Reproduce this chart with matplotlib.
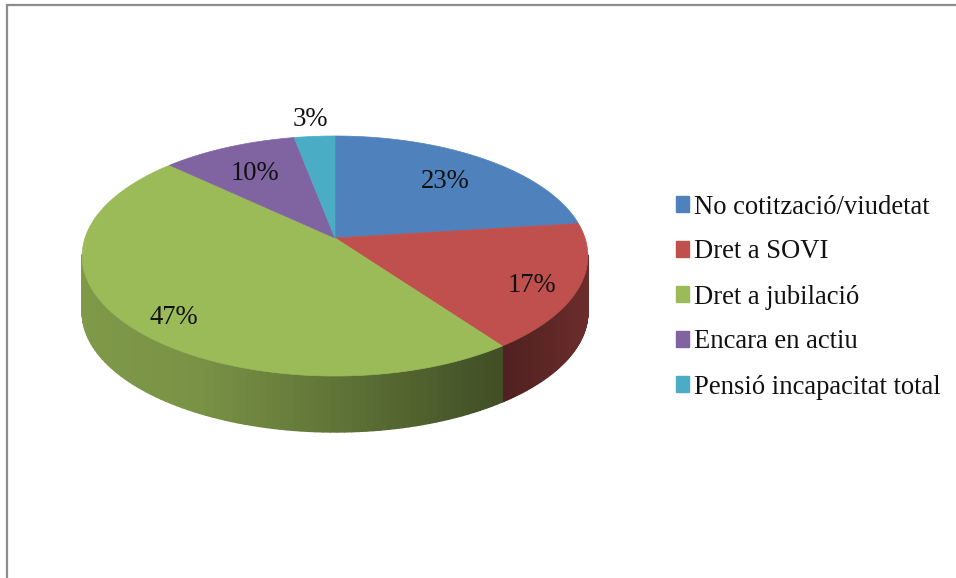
import numpy as np
import matplotlib
matplotlib.use('Agg')
import matplotlib.pyplot as plt
from matplotlib.patches import Patch, Polygon
from matplotlib.collections import PolyCollection

categories = ['No cotització/viudetat', 'Dret a SOVI', 'Dret a jubilació', 'Encara en actiu', 'Pensió incapacitat total']
values = [23, 17, 47, 10, 3]
colors = ['#4F81BD', '#C0504D', '#9BBB59', '#8064A2', '#4BACC6']

# pixel positions of the percent labels
label_pos = [(445, 182), (532, 286), (174, 317), (255, 173), (310, 119)]

plt.rcParams['font.family'] = ['Liberation Serif', 'DejaVu Serif']

# perspective of the tilted pie
CX, CY = 335, 238
RX, RY, K = 250, 117.3, 0.15
DEPTH = 56


def project(t):
    X, Y = np.cos(t), np.sin(t)
    w = 1 + K * Y
    return CX + RX * X / w, CY - RY * Y / w


def side_shade(x, name):
    if name == 'Dret a SOVI':
        return np.interp(x, [497, 587], [0.40, 0.56])
    return np.interp(x, [82, 200, 335, 490], [0.82, 0.78, 0.62, 0.43])


fig = plt.figure(figsize=(9.56, 5.78), dpi=100)
ax = fig.add_axes([0, 0, 1, 1])
ax.set_xlim(0, 956)
ax.set_ylim(578, 0)
ax.axis('off')

# frame left over from the original sheet
ax.plot([956, 7, 7], [5, 5, 578], color='#8c8c8c', lw=1.6, solid_joinstyle='miter')

edges = np.radians(90 - 3.6 * np.cumsum([0] + values))

# side wall, front half only
for i, name in enumerate(categories):
    t = np.linspace(edges[i], edges[i + 1], 120)
    t = t[np.sin(t) < -K * 0.9]
    if len(t) < 2:
        continue
    x, y = project(t)
    quads = []
    shades = []
    base = np.array(matplotlib.colors.to_rgb(colors[i]))
    for j in range(len(t) - 1):
        quads.append([(x[j], y[j]), (x[j + 1], y[j + 1]), (x[j + 1], y[j + 1] + DEPTH), (x[j], y[j] + DEPTH)])
        shades.append(base * side_shade((x[j] + x[j + 1]) / 2, name))
    ax.add_collection(PolyCollection(quads, facecolors=shades, edgecolors=shades, linewidths=1.0))

# top face
for i, name in enumerate(categories):
    t = np.linspace(edges[i], edges[i + 1], 200)
    x, y = project(t)
    pts = [(CX, CY)] + list(zip(x, y))
    ax.add_patch(Polygon(pts, closed=True, facecolor=colors[i], edgecolor=colors[i], lw=0.5))

for v, (px, py) in zip(values, label_pos):
    ax.text(px, py, f'{v}%', fontsize=19.2, color='#111111', ha='center', va='center')

handles = [Patch(facecolor=c, edgecolor=c, label=n) for c, n in zip(colors, categories)]
ax.legend(handles=handles, loc='center left', bbox_to_anchor=(675.5 / 956, 1 - 297 / 578),
          frameon=False, fontsize=19.2, handlelength=0.52, handleheight=0.52,
          handletextpad=0.17, labelspacing=0.75, labelcolor='#111111', borderpad=0, borderaxespad=0)

fig.savefig('out.png', dpi=100)
